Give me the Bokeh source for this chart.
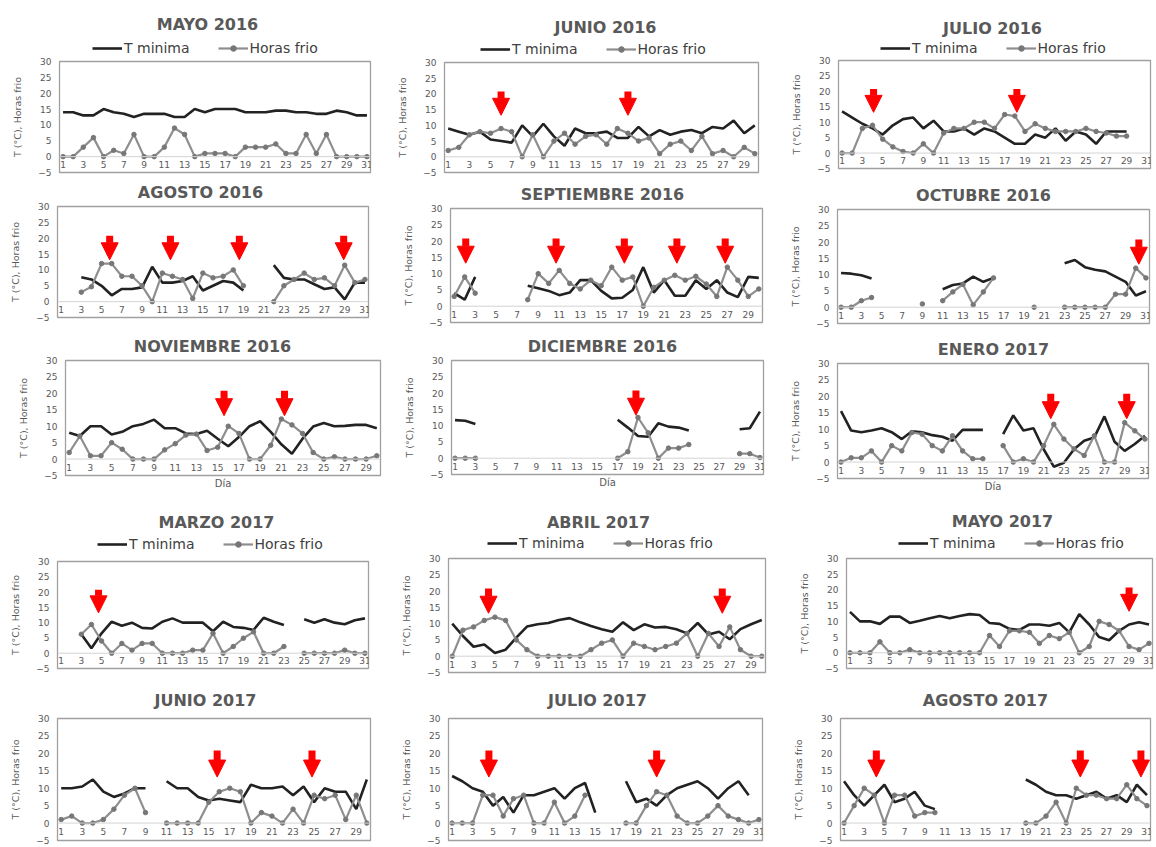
import numpy as np
from bokeh.plotting import figure
from bokeh.models import (Range1d, FixedTicker, LinearAxis, Title, Legend, LegendItem, Label,
                          ColumnDataSource, Arrow, NormalHead, Span)
from bokeh.layouts import row, column
from bokeh.embed import file_html
from bokeh.resources import INLINE

N = None
# ---------------- data ----------------
y_ticks = [-5, 0, 5, 10, 15, 20, 25, 30]

tmin_may16 = [14, 14, 13, 13, 15, 14, 13.5, 12.5, 13.5, 13.5, 13.5, 12.5, 12.5, 15, 14, 15, 15, 15, 14, 14, 14, 14.5, 14.5, 14, 14, 13.5, 13.5, 14.5, 14, 13, 13]
hf_may16 = [0, 0, 3, 6, 0, 2, 1, 7, 0, 0, 3, 9, 7, 0, 1, 1, 1, 0, 3, 3, 3, 4, 1, 1, 7, 1, 7, 0, 0, 0, 0]
arr_may16 = []

tmin_jun16 = [9, 8, 7, 8, 5.5, 5, 4.5, 10, 6.5, 10.5, 6.5, 3.5, 9, 7.5, 7.5, 8, 6, 6, 9.5, 6.5, 8.5, 7, 8, 8.5, 7.5, 9.5, 9, 11.5, 7.5, 10]
hf_jun16 = [2, 3, 7, 8, 7.5, 9, 8, 0, 7, 0, 5, 7.5, 4, 6.5, 7, 4, 9, 7.5, 5, 6, 1, 4, 5, 2, 6.5, 1, 2, 0, 3, 1]
arr_jun16 = [6, 18]

tmin_jul16 = [13.5, 11.5, 9.5, 8, 6, 9, 11, 11.5, 8, 10.5, 7, 7, 8, 6, 8, 7, 5, 3, 3, 6, 5, 8, 4, 7, 6, 3, 7, 7, 7]
hf_jul16 = [0, 0, 8, 9, 4.5, 2, 0.5, 0, 3, 0, 6.5, 8, 8, 10, 10, 8, 12.5, 12, 7, 9.5, 8, 7, 7, 7, 8, 7, 6.5, 5.5, 5.5]
arr_jul16 = [4.1, 18.2]

tmin_ago16 = [N, N, 7.7, 7, 5, 2, 4, 4, 4.5, 11, 6, 6, 6.5, 8, 3.5, 5, 6.5, 6, 3.5, N, N, 11.5, 7.5, 7, 7, 5.5, 4, 4.5, 0.7, 6, 6]
hf_ago16 = [N, N, 3, 4.7, 12, 12, 8, 8, 5, 0, 9, 8, 7, 1, 9, 7.5, 8, 10, 5, N, N, 0, 5, 7, 9, 7, 7.5, 5, 11.5, 6, 7]
arr_ago16 = [5.8, 11.8, 18.6, 28.9]

tmin_sep16 = [4, 2, 9, N, N, N, N, 6.3, 5.5, 4.7, 3.4, 4.2, 8, 8, 4.7, 2.4, 2.6, 5, 12, 4.2, 8, 3.2, 3.2, 8, 5.3, 8, 4.2, 2.8, 9, 8.7]
hf_sep16 = [3, 9, 4, N, N, N, N, 2, 10, 7, 11, 7, 5.3, 8, 6.3, 12, 8, 9, 0, 5.8, 8, 9.5, 8, 9.2, 6.8, 3, 12, 8, 3, 5.3]
arr_sep16 = [2.1, 10.7, 17.2, 22.2, 26.8]

tmin_oct16 = [10.5, 10.3, 9.8, 8.8, N, N, N, N, N, N, 5.5, 6.8, 7.3, 9.4, 7.8, 9, N, N, N, N, N, N, 13.5, 14.5, 12.3, 11.5, 11, 9.4, 7.8, 3.6, 4.9]
hf_oct16 = [0, 0, 2, 3, N, N, N, N, 1, N, 2, 4.7, 7, 0.7, 4.7, 9, N, N, N, 0, N, N, 0, 0, 0, 0, 0, 4, 4, 12, 9]
arr_oct16 = [30.3]

tmin_nov16 = [8, 7, 10, 10, 7.5, 8.3, 10, 10.7, 12, 9.4, 9.4, 7.8, 7.6, 8.6, 6.2, 3.9, 6.7, 10, 11.5, 8.3, 4.5, 1.6, 6.2, 9.9, 11, 10, 10.1, 10.4, 10.4, 9.4]
hf_nov16 = [2, 7, 1, 1, 5, 3, 0, 0, 0, 2.8, 4.7, 7.3, 7.6, 2.6, 3.6, 10, 7.8, 0, 0, 4.2, 12.2, 10.4, 7.8, 2, 0, 0.7, 0, 0, 0, 1]
arr_nov16 = [15.6, 21.3]

tmin_dic16 = [11.7, 11.5, 10.5, N, N, N, N, N, N, N, N, N, N, N, N, N, 11.8, 9.4, 6.8, 6.6, 10.7, 9.7, 9.4, 8.5, N, N, N, N, 8.9, 9.2, 14.3]
hf_dic16 = [0, 0, 0, N, N, N, N, N, N, N, N, N, N, N, N, N, 0, 2, 12.5, 7.8, 0, 3.1, 3.1, 4.2, N, N, N, N, 1.4, 1.4, 0.2]
arr_dic16 = [18.8]

tmin_ene17 = [15.5, 9.6, 9.1, 9.6, 10.3, 9.1, 7, 9.4, 9.1, 8.2, 7.7, 6.5, 9.8, 9.8, 9.8, N, 8.5, 14.2, 9.6, 10.3, 3.9, -1.4, -0.2, 3.9, 6.5, 7.5, 13.9, 6.2, 3.4, 5.5, 8]
hf_ene17 = [0, 1.3, 1.3, 3.4, 0, 5, 3.4, 9, 8.5, 5, 3.4, 8, 3.4, 1, 1, N, 5, 0, 1, 0, 5, 11.5, 7, 4, 2, 8, 0, 0, 12, 9.5, 7]
arr_ene17 = [21.7, 29.2]

tmin_mar17 = [N, N, 6.2, 1.6, 6.5, 10.3, 9, 10, 8.3, 8.1, 10.3, 11.4, 10, 10, 10, 7.2, 10.3, 8.6, 8.3, 7.6, 11.6, 10.3, 9.2, N, 11.1, 10, 11.1, 10, 9.5, 10.8, 11.4]
hf_mar17 = [N, N, 6.2, 9.4, 4, 0, 3.2, 1, 3.2, 3.2, 0, 0, 0, 1, 1, 6.5, 0, 2.2, 4.9, 7, 0, 0, 2.2, N, 0, 0, 0, 0, 1, 0, 0]
arr_mar17 = [4.7]

tmin_abr17 = [10, 6.2, 2.9, 3.6, 1, 2, 5.7, 9.1, 9.8, 10.2, 11.1, 11.7, 10.4, 9.3, 8.3, 7.5, 10.4, 8, 9.8, 8.8, 9, 8.3, 7, 10.2, 6.7, 7.5, 5.2, 8.3, 9.8, 11.1]
hf_abr17 = [0, 8, 9, 11, 12, 11, 5, 2, 0, 0, 0, 0, 0, 2, 4, 5, 0, 4, 3, 2, 3, 4, 7, 0, 7, 3, 9, 2, 0, 0]
arr_abr17 = [4.4, 26.3]

tmin_may17 = [13, 10, 10, 9.2, 11.5, 11.5, 9.5, 10.2, 11, 11.7, 11, 11.7, 12.3, 12, 9.5, 9.2, 7.6, 7.3, 9, 9, 8.6, 9.5, 6.5, 12.3, 9, 5, 4, 7, 9, 9.7, 9]
hf_may17 = [0, 0, 0, 3.5, 0, 0, 1, 0, 0, 0, 0, 0, 0, 0, 5.5, 2, 7, 7, 6.5, 3, 5.5, 4.5, 6.5, 0, 2, 10, 9, 7, 2, 1, 3]
arr_may17 = [29]

tmin_jun17 = [10, 10, 10.5, 12.5, 9, 7.5, 8.5, 10, 10, N, 12, 10, 10, 7.5, 6.5, 7, 6.5, 6, 11, 10, 10, 10.5, 8, 10.5, 6, 10, 9, 9, 4, 12.5]
hf_jun17 = [1, 2, 0, 0, 1, 4, 8, 10, 3, N, 0, 0, 0, 0, 6, 9, 10, 9, 0, 3, 2, 0, 4, 0, 8, 7, 8, 1, 8, 0]
arr_jun17 = [15.8, 24.8]

tmin_jul17 = [13.5, 12, 10, 9, 5, 7.5, 3, 8, 8, 9, 10, 7, 10, 11.5, 3, N, N, 12, 6, 7, 5, 8, 10, 11, 12, 10, 7, 10, 12, 8, N]
hf_jul17 = [0, 0, 0, 8, 8, 2, 7, 8, 0, 0, 6, 0, 2, 8, N, N, N, 0, 0, 5, 9, 8, 2, 0, 0, 2, 5, 2, 1, 0, 1]
arr_jul17 = [4.6, 21]

tmin_ago17 = [12, 8, 5, 8, 11, 6, 7, 9, 5, 4, N, N, N, N, N, N, N, N, 12.5, 11, 9, 8, 8, 7, 8, 9, 7, 8, 6, 11, 8]
hf_ago17 = [0, 5, 10, 8, 0, 8, 8, 2, 3, 3, N, N, N, N, N, N, N, N, 0, 0, 2, 6, 0, 10, 8, 8, 7, 7, 11, 7, 5]
arr_ago17 = [4.2, 24.4, 30.4]

titles = ["MAYO 2016", "JUNIO 2016", "JULIO 2016",
          "AGOSTO 2016", "SEPTIEMBRE 2016", "OCTUBRE 2016",
          "NOVIEMBRE 2016", "DICIEMBRE 2016", "ENERO 2017",
          "MARZO 2017", "ABRIL 2017", "MAYO 2017",
          "JUNIO 2017", "JULIO 2017", "AGOSTO 2017"]
month_days = [31, 30, 31, 31, 30, 31, 30, 31, 31, 31, 30, 31, 30, 31, 31]
tmins = [tmin_may16, tmin_jun16, tmin_jul16, tmin_ago16, tmin_sep16, tmin_oct16, tmin_nov16, tmin_dic16,
         tmin_ene17, tmin_mar17, tmin_abr17, tmin_may17, tmin_jun17, tmin_jul17, tmin_ago17]
hfs = [hf_may16, hf_jun16, hf_jul16, hf_ago16, hf_sep16, hf_oct16, hf_nov16, hf_dic16,
       hf_ene17, hf_mar17, hf_abr17, hf_may17, hf_jun17, hf_jul17, hf_ago17]
arrs = [arr_may16, arr_jun16, arr_jul16, arr_ago16, arr_sep16, arr_oct16, arr_nov16, arr_dic16,
        arr_ene17, arr_mar17, arr_abr17, arr_may17, arr_jun17, arr_jul17, arr_ago17]

# ---------------- layout / style (page px) ----------------
FONT = "DejaVu Sans"
TXT = "#595959"
COL_W = [385, 385, 384]
COL_X = [0, 385, 770]
ROW_Y = [0, 180, 335, 500, 685]
TOP_B = 4

# per panel: header height, frame height, bottom border, border left, frame width
hdr_h = [57, 58, 56, 22, 24, 25, 21, 21, 24, 57, 54, 54, 29, 29, 29]
frm_h = [111, 110, 108, 111, 114, 114, 115, 114, 115, 107, 114, 110, 122, 122, 122]
bot_b = [8, 8, 12, 18, 13, 12, 25, 26, 22, 17, 13, 17, 4, 4, 4]
bor_l = [59, 59, 68, 57, 65, 67, 65, 66, 67, 57, 63, 76, 57, 63, 70]
frm_w = [311, 314, 312, 311, 312, 312, 315, 312, 311, 311, 317, 306, 313, 314, 310]
# title centre and legend left / centre
title_cx = [207, 605, 992, 200, 602, 983, 212, 602, 993, 216, 598, 1002, 205, 597, 985]
title_cy = [24, 27, 28, 192, 194, 195, 346, 346, 349, 522, 522, 521, 700, 700, 700]
leg_left = {0: 92, 1: 480, 2: 880, 9: 97, 10: 487, 11: 898}
leg_cy = {0: 48, 1: 49, 2: 48, 9: 544, 10: 543, 11: 543}
dia_rows = [2]

T_COLOR, T_W = "#222222", 2.6
H_COLOR, H_W, M_COLOR = "#8e8e8e", 2.2, "#777777"


def no_grid(fig):
    fig.xgrid.visible = False
    fig.ygrid.visible = False


def make_header(i):
    r, c = divmod(i, 3)
    W, HH = COL_W[c], hdr_h[i]
    h = figure(width=W, height=HH, x_range=Range1d(0, W), y_range=Range1d(0, HH),
               output_backend="svg", toolbar_location=None, title=None,
               x_axis_location=None, y_axis_location=None, frame_align=False,
               min_border_left=0, min_border_right=0, min_border_top=0, min_border_bottom=0)
    no_grid(h)
    h.outline_line_color = None
    h.background_fill_color = "white"
    h.border_fill_color = "white"
    y_bottom = ROW_Y[r] + HH
    h.add_layout(Label(x=title_cx[i] - COL_X[c], y=y_bottom - title_cy[i], text=titles[i],
                       text_align="center", text_baseline="middle", text_font=FONT,
                       text_font_size="16px", text_font_style="bold", text_color=TXT))
    if i in leg_left:
        d_t = h.line([-20, -10], [-20, -10], line_color=T_COLOR, line_width=T_W)
        d_h = h.line([-20, -10], [-20, -10], line_color=H_COLOR, line_width=H_W)
        d_m = h.scatter([-20, -10], [-20, -10], marker="circle", size=4.5,
                        fill_color=M_COLOR, line_color=M_COLOR)
        leg = Legend(items=[LegendItem(label="T minima", renderers=[d_t]),
                            LegendItem(label="Horas frio", renderers=[d_h, d_m])],
                     orientation="horizontal",
                     location=(leg_left[i] - COL_X[c], y_bottom - leg_cy[i] - 10),
                     label_text_font=FONT, label_text_font_size="14px", label_text_color="#404040",
                     glyph_width=30, glyph_height=14, label_height=20, spacing=28, padding=0, margin=0,
                     label_standoff=2, border_line_alpha=0, background_fill_alpha=0)
        h.add_layout(leg)
    return h


def make_panel(i):
    r, c = divmod(i, 3)
    nd = month_days[i]
    fw, fh = frm_w[i], frm_h[i]
    bl = bor_l[i]
    br = COL_W[c] - bl - fw
    p = figure(frame_width=fw, frame_height=fh, output_backend="svg", toolbar_location=None, title=None,
               x_range=Range1d(0.65, nd + 0.35), y_range=Range1d(-5, 30), frame_align=False,
               min_border_left=bl, min_border_right=br, min_border_top=TOP_B, min_border_bottom=bot_b[i],
               x_axis_location=None, y_axis_location=None)
    no_grid(p)
    p.outline_line_color = "#a0a0a0"
    p.outline_line_width = 1.3
    p.background_fill_color = "white"
    p.border_fill_color = "white"

    # y axis
    ya = LinearAxis(ticker=FixedTicker(ticks=y_ticks), axis_label="T (°C), Horas frio")
    ya.axis_line_color = None
    ya.major_tick_line_color = None
    ya.minor_tick_line_color = None
    ya.major_tick_out = 0
    ya.major_tick_in = 0
    ya.minor_tick_out = 0
    ya.minor_tick_in = 0
    ya.major_label_text_font = FONT
    ya.major_label_text_font_size = "9px"
    ya.major_label_text_color = TXT
    ya.major_label_standoff = 8
    ya.axis_label_text_font = FONT
    ya.axis_label_text_font_size = "9.5px"
    ya.axis_label_text_font_style = "normal"
    ya.axis_label_text_color = TXT
    ya.axis_label_standoff = 12
    p.add_layout(ya, "left")

    # horizontal (category) axis: zero line + day labels under it
    p.add_layout(Span(location=0, dimension="width", line_color="#d4d4d4", line_width=1))
    ticks = list(range(1, nd + 1, 2))
    lsrc = ColumnDataSource(dict(x=ticks, y=[-2.5] * len(ticks), t=[str(v) for v in ticks]))
    p.text("x", "y", text="t", source=lsrc, text_align="center", text_baseline="middle",
           text_font_size="9px", text_color=TXT, text_font={"value": FONT})
    if r in dia_rows:
        p.add_layout(Title(text="Día", align="center", text_font=FONT, text_font_size="10px",
                           text_font_style="normal", text_color=TXT, standoff=0), "below")

    tmin = np.array(tmins[i], dtype=float)
    hf = np.array(hfs[i], dtype=float)
    src = ColumnDataSource(dict(day=np.arange(1, len(tmin) + 1), tmin=tmin, hf=hf))
    p.line("day", "tmin", source=src, line_color=T_COLOR, line_width=T_W)
    p.line("day", "hf", source=src, line_color=H_COLOR, line_width=H_W)
    p.scatter("day", "hf", source=src, marker="circle", size=4.5,
              fill_color=M_COLOR, line_color=M_COLOR)

    if arrs[i]:
        n = len(arrs[i])
        asrc = ColumnDataSource(dict(x=arrs[i], y0=[20.8] * n, y1=[13.2] * n))
        p.add_layout(Arrow(end=NormalHead(size=17, fill_color="#ff0000", line_color="#ff0000", line_width=1),
                           x_start="x", y_start="y0", x_end="x", y_end="y1",
                           line_color="#ff0000", line_width=7, source=asrc))
    return p


rows = []
for r in range(5):
    cols = []
    for c in range(3):
        i = r * 3 + c
        cols.append(column(make_header(i), make_panel(i)))
    rows.append(row(*cols))
lay = column(*rows)

open("out.html", "w").write(file_html(lay, INLINE))
